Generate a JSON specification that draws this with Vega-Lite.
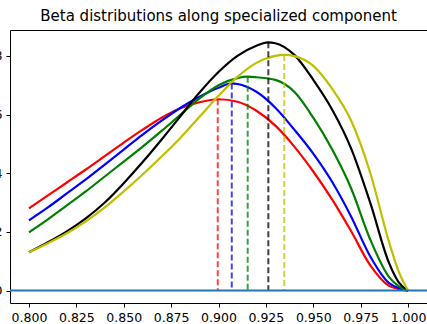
{
  "$schema": "https://vega.github.io/schema/vega-lite/v6.json",
  "width": 417,
  "height": 273,
  "autosize": {"type": "none"},
  "padding": {"left": 10, "top": 30, "right": 0, "bottom": 21},
  "title": {"text": "Beta distributions along specialized component", "font": "DejaVu Sans", "fontSize": 15, "fontWeight": "normal", "color": "#000", "anchor": "middle", "baseline": "alphabetic", "offset": 10, "dy": 16},
  "config": {
    "view": {"stroke": "#000", "strokeWidth": 1},
    "axis": {"domain": false, "grid": false, "ticks": true, "tickColor": "#000", "tickSize": 4, "tickWidth": 1, "labelColor": "#000", "labelFont": "DejaVu Sans", "labelFontSize": 12.5, "labelPadding": 4}
  },
  "datasets": {
    "curves": [
      {"s": "r", "x": 0.80, "y": 2.801}, {"s": "r", "x": 0.81, "y": 3.243}, {"s": "r", "x": 0.82, "y": 3.684}, {"s": "r", "x": 0.83, "y": 4.126}, {"s": "r", "x": 0.84, "y": 4.584}, {"s": "r", "x": 0.85, "y": 5.042}, {"s": "r", "x": 0.86, "y": 5.484}, {"s": "r", "x": 0.87, "y": 5.891}, {"s": "r", "x": 0.88, "y": 6.214}, {"s": "r", "x": 0.89, "y": 6.418}, {"s": "r", "x": 0.90, "y": 6.52}, {"s": "r", "x": 0.91, "y": 6.435}, {"s": "r", "x": 0.92, "y": 6.129}, {"s": "r", "x": 0.93, "y": 5.62}, {"s": "r", "x": 0.94, "y": 4.907}, {"s": "r", "x": 0.95, "y": 4.058}, {"s": "r", "x": 0.96, "y": 3.10}, {"s": "r", "x": 0.97, "y": 2.02}, {"s": "r", "x": 0.98, "y": 0.866}, {"s": "r", "x": 0.99, "y": 0.16}, {"s": "r", "x": 0.995, "y": 0.05}, {"s": "r", "x": 1.0, "y": 0},
      {"s": "b", "x": 0.80, "y": 2.394}, {"s": "b", "x": 0.81, "y": 2.835}, {"s": "b", "x": 0.82, "y": 3.311}, {"s": "b", "x": 0.83, "y": 3.786}, {"s": "b", "x": 0.84, "y": 4.295}, {"s": "b", "x": 0.85, "y": 4.805}, {"s": "b", "x": 0.86, "y": 5.314}, {"s": "b", "x": 0.87, "y": 5.79}, {"s": "b", "x": 0.88, "y": 6.231}, {"s": "b", "x": 0.89, "y": 6.604}, {"s": "b", "x": 0.90, "y": 6.91}, {"s": "b", "x": 0.907, "y": 7.06}, {"s": "b", "x": 0.91, "y": 7.04}, {"s": "b", "x": 0.92, "y": 6.774}, {"s": "b", "x": 0.93, "y": 6.231}, {"s": "b", "x": 0.94, "y": 5.484}, {"s": "b", "x": 0.95, "y": 4.669}, {"s": "b", "x": 0.96, "y": 3.70}, {"s": "b", "x": 0.97, "y": 2.52}, {"s": "b", "x": 0.98, "y": 1.171}, {"s": "b", "x": 0.99, "y": 0.255}, {"s": "b", "x": 0.995, "y": 0.085}, {"s": "b", "x": 1.0, "y": 0},
      {"s": "g", "x": 0.80, "y": 1.986}, {"s": "g", "x": 0.81, "y": 2.428}, {"s": "g", "x": 0.82, "y": 2.903}, {"s": "g", "x": 0.83, "y": 3.379}, {"s": "g", "x": 0.84, "y": 3.888}, {"s": "g", "x": 0.85, "y": 4.397}, {"s": "g", "x": 0.86, "y": 4.907}, {"s": "g", "x": 0.87, "y": 5.44}, {"s": "g", "x": 0.88, "y": 6.0}, {"s": "g", "x": 0.89, "y": 6.55}, {"s": "g", "x": 0.90, "y": 7.0}, {"s": "g", "x": 0.91, "y": 7.24}, {"s": "g", "x": 0.915, "y": 7.29}, {"s": "g", "x": 0.92, "y": 7.27}, {"s": "g", "x": 0.93, "y": 7.182}, {"s": "g", "x": 0.94, "y": 6.774}, {"s": "g", "x": 0.95, "y": 5.891}, {"s": "g", "x": 0.96, "y": 4.805}, {"s": "g", "x": 0.97, "y": 3.48}, {"s": "g", "x": 0.98, "y": 1.749}, {"s": "g", "x": 0.99, "y": 0.458}, {"s": "g", "x": 0.995, "y": 0.153}, {"s": "g", "x": 1.0, "y": 0},
      {"s": "k", "x": 0.80, "y": 1.307}, {"s": "k", "x": 0.81, "y": 1.647}, {"s": "k", "x": 0.82, "y": 2.02}, {"s": "k", "x": 0.83, "y": 2.462}, {"s": "k", "x": 0.84, "y": 3.0}, {"s": "k", "x": 0.85, "y": 3.66}, {"s": "k", "x": 0.86, "y": 4.38}, {"s": "k", "x": 0.87, "y": 5.15}, {"s": "k", "x": 0.88, "y": 5.95}, {"s": "k", "x": 0.89, "y": 6.75}, {"s": "k", "x": 0.90, "y": 7.45}, {"s": "k", "x": 0.91, "y": 8.0}, {"s": "k", "x": 0.92, "y": 8.34}, {"s": "k", "x": 0.926, "y": 8.46}, {"s": "k", "x": 0.93, "y": 8.43}, {"s": "k", "x": 0.94, "y": 8.031}, {"s": "k", "x": 0.95, "y": 7.182}, {"s": "k", "x": 0.96, "y": 6.163}, {"s": "k", "x": 0.97, "y": 4.839}, {"s": "k", "x": 0.98, "y": 3.005}, {"s": "k", "x": 0.99, "y": 0.934}, {"s": "k", "x": 0.995, "y": 0.289}, {"s": "k", "x": 1.0, "y": 0},
      {"s": "y", "x": 0.80, "y": 1.307}, {"s": "y", "x": 0.81, "y": 1.613}, {"s": "y", "x": 0.82, "y": 1.952}, {"s": "y", "x": 0.83, "y": 2.36}, {"s": "y", "x": 0.84, "y": 2.835}, {"s": "y", "x": 0.85, "y": 3.379}, {"s": "y", "x": 0.86, "y": 3.956}, {"s": "y", "x": 0.87, "y": 4.567}, {"s": "y", "x": 0.88, "y": 5.212}, {"s": "y", "x": 0.89, "y": 5.925}, {"s": "y", "x": 0.90, "y": 6.638}, {"s": "y", "x": 0.91, "y": 7.284}, {"s": "y", "x": 0.92, "y": 7.759}, {"s": "y", "x": 0.93, "y": 8.0}, {"s": "y", "x": 0.935, "y": 8.03}, {"s": "y", "x": 0.94, "y": 7.99}, {"s": "y", "x": 0.95, "y": 7.657}, {"s": "y", "x": 0.96, "y": 6.876}, {"s": "y", "x": 0.97, "y": 5.79}, {"s": "y", "x": 0.98, "y": 4.024}, {"s": "y", "x": 0.99, "y": 1.647}, {"s": "y", "x": 0.995, "y": 0.662}, {"s": "y", "x": 1.0, "y": 0}
    ],
    "modes": [
      {"s": "r", "x": 0.8996, "peak": 6.52},
      {"s": "b", "x": 0.907, "peak": 7.06},
      {"s": "g", "x": 0.9154, "peak": 7.29},
      {"s": "k", "x": 0.9263, "peak": 8.46},
      {"s": "y", "x": 0.9347, "peak": 8.03}
    ]
  },
  "layer": [
    {
      "data": {"name": "curves"},
      "mark": {"type": "line", "strokeWidth": 2.2, "interpolate": "monotone"},
      "encoding": {
        "x": {"field": "x", "type": "quantitative", "title": null, "scale": {"domain": [0.79, 1.01], "nice": false, "zero": false}, "axis": {"values": [0.8, 0.825, 0.85, 0.875, 0.9, 0.925, 0.95, 0.975, 1.0], "format": ".3f"}},
        "y": {"field": "y", "type": "quantitative", "title": null, "scale": {"domain": [-0.423, 8.88], "nice": false, "zero": false}, "axis": {"values": [0, 2, 4, 6, 8], "format": "d"}},
        "color": {"field": "s", "type": "nominal", "legend": null, "sort": ["r", "b", "g", "k", "y"], "scale": {"domain": ["r", "b", "g", "k", "y"], "range": ["#ff0000", "#0000ff", "#008000", "#000000", "#bfbf00"]}}
      }
    },
    {
      "data": {"name": "modes"},
      "mark": {"type": "rule", "strokeWidth": 2, "strokeDash": [6, 3], "opacity": 0.75},
      "encoding": {
        "x": {"field": "x", "type": "quantitative"},
        "y": {"field": "peak", "type": "quantitative"},
        "y2": {"datum": 0},
        "color": {"field": "s", "type": "nominal", "legend": null}
      }
    },
    {
      "data": {"values": [{}]},
      "mark": {"type": "rule", "color": "#1f77b4", "strokeWidth": 2},
      "encoding": {"y": {"datum": 0}}
    }
  ]
}
